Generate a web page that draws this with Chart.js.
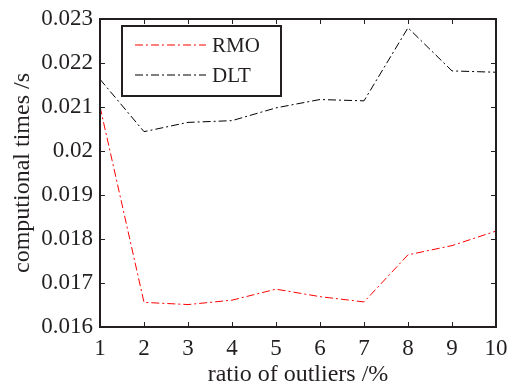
<!DOCTYPE html>
<html>
<head>
<meta charset="utf-8">
<script src="https://cdn.jsdelivr.net/npm/chart.js@4/dist/chart.umd.min.js"></script>
<style>
  html, body { margin: 0; padding: 0; background: #fff; }
  #wrap { width: 510px; height: 389px; position: relative; }
</style>
</head>
<body>
<div id="wrap"><canvas id="c"></canvas></div>
<script>
// ratio of outliers (%)
const outlierRatio = [1, 2, 3, 4, 5, 6, 7, 8, 9, 10];
// computation time (s) for each method
const rmoTimes = [0.02101, 0.01656, 0.01651, 0.01661, 0.01686, 0.01669, 0.01657, 0.01764, 0.01785, 0.01818];
const dltTimes = [0.02163, 0.02044, 0.02065, 0.02069, 0.02098, 0.02117, 0.02114, 0.02280, 0.02182, 0.02179];
const seriesNames = ['RMO', 'DLT'];
const seriesColors = ['#ff0000', '#000000'];

const FONT = "'Liberation Serif', 'Times New Roman', serif";
const INK = '#231f20';
const DASH = [8, 3, 2, 3];

// box frame with inward ticks on all four sides
const frameTicks = {
  id: 'frameTicks',
  afterDraw(chart) {
    const { ctx, chartArea: a, scales } = chart;
    const len = 5;
    ctx.save();
    ctx.setLineDash([]);
    ctx.strokeStyle = INK;
    ctx.lineWidth = 1;
    ctx.beginPath();
    scales.x.ticks.forEach(t => {
      const px = Math.round(scales.x.getPixelForValue(t.value)) + 0.5;
      ctx.moveTo(px, a.bottom); ctx.lineTo(px, a.bottom - len);
      ctx.moveTo(px, a.top); ctx.lineTo(px, a.top + len);
    });
    scales.y.ticks.forEach(t => {
      const py = Math.round(scales.y.getPixelForValue(t.value)) + 0.5;
      ctx.moveTo(a.left, py); ctx.lineTo(a.left + len, py);
      ctx.moveTo(a.right, py); ctx.lineTo(a.right - len, py);
    });
    ctx.stroke();
    ctx.lineWidth = 2;
    ctx.strokeRect(a.left, a.top, a.right - a.left, a.bottom - a.top);
    ctx.restore();
  }
};

// legend box in the upper-left of the plot
const boxLegend = {
  id: 'boxLegend',
  afterDraw(chart) {
    const { ctx, chartArea: a } = chart;
    const x0 = a.left + 22, y0 = a.top + 7, w = 159, h = 70;
    ctx.save();
    ctx.setLineDash([]);
    ctx.fillStyle = '#fff';
    ctx.fillRect(x0, y0, w, h);
    ctx.lineWidth = 2;
    ctx.strokeStyle = INK;
    ctx.strokeRect(x0, y0, w, h);
    ctx.font = '21px ' + FONT;
    ctx.textBaseline = 'middle';
    seriesNames.forEach((name, i) => {
      const yy = y0 + 19 + i * 30;
      ctx.save();
      ctx.strokeStyle = seriesColors[i];
      ctx.lineWidth = 1.2;
      ctx.setLineDash(DASH);
      ctx.beginPath();
      ctx.moveTo(x0 + 13, yy);
      ctx.lineTo(x0 + 84, yy);
      ctx.stroke();
      ctx.restore();
      ctx.fillStyle = INK;
      ctx.fillText(name, x0 + 90, yy + 1);
    });
    ctx.restore();
  }
};

const mkSeries = (vals) => vals.map((v, i) => ({ x: outlierRatio[i], y: v }));

new Chart(document.getElementById('c'), {
  type: 'line',
  data: {
    datasets: [
      { label: seriesNames[0], data: mkSeries(rmoTimes), borderColor: seriesColors[0], borderWidth: 1, borderDash: DASH, pointRadius: 0, fill: false, tension: 0 },
      { label: seriesNames[1], data: mkSeries(dltTimes), borderColor: seriesColors[1], borderWidth: 1, borderDash: DASH, pointRadius: 0, fill: false, tension: 0 }
    ]
  },
  options: {
    responsive: true,
    maintainAspectRatio: false,
    animation: false,
    layout: { padding: { top: 19, right: 14, left: 0, bottom: 0 } },
    plugins: { legend: { display: false }, tooltip: { enabled: false } },
    scales: {
      x: {
        type: 'linear', min: 1, max: 10,
        grid: { display: false, drawTicks: false },
        border: { display: false },
        ticks: { stepSize: 1, padding: 8, color: INK, font: { family: FONT, size: 23 } },
        title: { display: true, text: 'ratio of outliers /%', color: INK, font: { family: FONT, size: 24 }, padding: { top: 4, bottom: 0 } },
        afterFit: s => { s.height = 62; s.paddingLeft = 0; s.paddingRight = 0; }
      },
      y: {
        min: 0.016, max: 0.023,
        grid: { display: false, drawTicks: false },
        border: { display: false },
        ticks: { stepSize: 0.001, padding: 7, color: INK, font: { family: FONT, size: 23 },
          callback: v => String(+(+v).toFixed(3)) },
        title: { display: true, text: 'computional times /s', color: INK, font: { family: FONT, size: 24 }, padding: { top: 8, bottom: 0 } },
        afterFit: s => { s.width = 100; s.paddingTop = 0; s.paddingBottom = 0; }
      }
    }
  },
  plugins: [frameTicks, boxLegend]
});
</script>
</body>
</html>
